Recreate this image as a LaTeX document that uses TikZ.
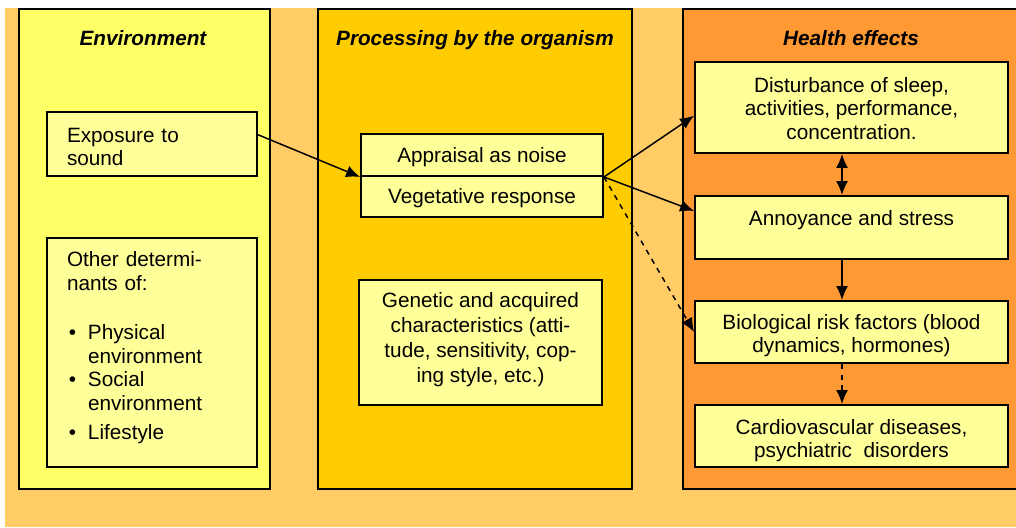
\documentclass[tikz,border=0pt]{standalone}
\usepackage{fontspec}
\setmainfont{Liberation Sans}
\usetikzlibrary{positioning,arrows.meta}

\definecolor{bgorange}{HTML}{FFCC66}
\definecolor{envyellow}{HTML}{FFFF66}
\definecolor{orggold}{HTML}{FFCC00}
\definecolor{efforange}{HTML}{FF9933}
\definecolor{boxyellow}{HTML}{FFFF99}

\tikzset{
  column/.style={draw, line width=1.1pt},
  inbox/.style={draw, line width=1.1pt, fill=boxyellow, align=center, inner ysep=0pt,
    font=\fontsize{11.8pt}{13.4pt}\selectfont,
    execute at begin node={\rule{0pt}{12pt}},
    execute at end node={\rule[-4pt]{0pt}{0pt}}},
  title/.style={font=\fontsize{11.8pt}{13.4pt}\selectfont\bfseries\itshape,
    text height=0.75em, text depth=0.25em},
  arr/.style={line width=0.85pt, -{Latex[length=2.8mm,width=2.4mm]}},
}

\begin{document}
\begin{tikzpicture}[x=0.02cm, y=-0.02cm]
%  \draw[step=50,gray,very thin] (0,0) grid (1016,527);	% for debug
  \useasboundingbox (0,0) rectangle (1016,527);
  \fill[bgorange] (5,8) rectangle (1016,527);
  % columns
  \draw[column, fill=envyellow] (19,9) rectangle (270,489);
  \draw[column, fill=orggold] (318,9) rectangle (632,489);
  \draw[column, fill=efforange] (683,9) rectangle (1030,489);
  \node[title] (envt) at (143,41.5) {Environment};
  \node[title] (orgt) at (475,41.5) {Processing by the organism};
  \node[title] (efft) at (851,41.5) {Health effects};
  % environment
  \node[inbox, minimum width=4.2cm, minimum height=1.28cm, text width=3.4cm, align=left]
    (expo) at (152,144) {\rule{0pt}{15.4pt}Exposure to\\sound};
  \def\bl{\makebox[0.42cm][l]{\hspace{1pt}\textbullet}}
  \def\ind{\hspace*{0.42cm}}
  \node[inbox, minimum width=4.2cm, minimum height=4.58cm, text width=3.4cm, align=left]
    (other) at (152,352.5) {Other determi-\\nants of:\\[0.52cm]
    \bl Physical\\\ind environment\\\bl Social\\\ind environment\\[3pt]\bl Lifestyle\\[-6pt]~};
  % organism
  \node[inbox, minimum width=4.84cm, minimum height=0.84cm] (appr) at (482,155) {Appraisal as noise};
  \node[inbox, minimum width=4.84cm, minimum height=0.82cm, below=-1.1pt of appr] (veg) {Vegetative response};
  \node[inbox, minimum width=4.86cm, minimum height=2.5cm, font=\fontsize{11.8pt}{14.2pt}\selectfont]
    (gen) at (480.5,342.5)
    {Genetic and acquired\\characteristics (atti-\\tude, sensitivity, cop-\\ing style, etc.)\\[-12.1pt]~};
  % health effects
  \node[inbox, minimum width=6.26cm, minimum height=1.82cm] (dist) at (851.5,107.5)
    {\rule{0pt}{13.4pt}Disturbance of sleep,\\activities, performance,\\concentration.};
  \node[inbox, minimum width=6.26cm, minimum height=1.26cm] (ann) at (851.5,227.5)
    {Annoyance and stress\\[-6.2pt]~};
  \node[inbox, minimum width=6.26cm, minimum height=1.24cm] (bio) at (851.5,332)
    {\rule{0pt}{14.2pt}Biological risk factors (blood\\dynamics, hormones)};
  \node[inbox, minimum width=6.26cm, minimum height=1.24cm] (cardio) at (851.5,436)
    {\rule{0pt}{15.4pt}Cardiovascular diseases,\\psychiatric\ \ disorders};
  % arrow
  \draw[arr] (expo.5) -- (appr.south west);
  \draw[arr] (appr.south east) -- (dist.183);
  \draw[arr] (appr.south east) -- (ann.174);
  \draw[arr, dashed] (appr.south east) -- (bio.west);
  \draw[arr, {Latex[length=2.8mm,width=2.4mm]}-{Latex[length=2.8mm,width=2.4mm]}]
    ([xshift=-0.19cm]dist.south) -- ([xshift=-0.19cm]ann.north);
  \draw[arr] ([xshift=-0.19cm]ann.south) -- ([xshift=-0.19cm]bio.north);
  \draw[arr, dashed] ([xshift=-0.19cm]bio.south) -- ([xshift=-0.19cm]cardio.north);
\end{tikzpicture}
\end{document}
